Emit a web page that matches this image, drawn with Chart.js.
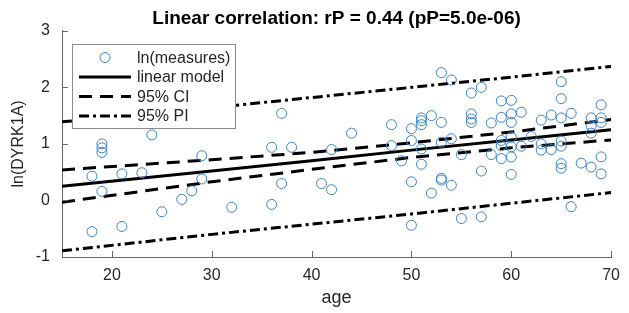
<!DOCTYPE html>
<html>
<head>
<meta charset="utf-8">
<script src="https://cdn.jsdelivr.net/npm/chart.js@4"></script>
<style>
  html, body { margin: 0; padding: 0; background: #fff; }
  #wrap { width: 629px; height: 313px; }
</style>
</head>
<body>
<div id="wrap"><canvas id="corrChart"></canvas></div>
<script>
const ages = [
  18, 18, 19, 19, 19, 19, 21, 21, 23, 24, 25, 27, 28, 29, 29, 32, 36, 36, 37, 37,
  38, 41, 42, 42, 44, 48, 48, 49, 50, 50, 50, 50, 51, 51, 51, 51, 51, 52, 52, 53,
  53, 53, 53, 53, 54, 54, 54, 55, 55, 56, 56, 56, 56, 57, 57, 57, 58, 58, 59, 59,
  59, 59, 59, 60, 60, 60, 60, 60, 60, 60, 61, 61, 62, 63, 63, 63, 64, 64, 65, 65,
  65, 65, 65, 65, 65, 66, 66, 67, 68, 68, 68, 68, 69, 69, 69, 69, 69
];
const measures = [
  0.43, -0.55, 1.00, 0.93, 0.85, 0.16, 0.47, -0.46, 0.49, 1.16, -0.20, 0.02, 0.17, 0.79, 0.38, -0.12, 0.94, -0.07, 1.54, 0.30,
  0.94, 0.30, 0.90, 0.19, 1.19, 1.34, 0.97, 0.70, 1.27, 1.06, 0.33, -0.44, 1.46, 1.41, 1.34, 0.91, 0.64, 1.50, 0.13, 2.26,
  1.38, 1.03, 0.39, 0.36, 2.13, 1.09, 0.27, 0.81, -0.32, 1.90, 1.53, 1.44, 1.38, 2.00, 0.52, -0.29, 1.37, 0.81, 1.76, 1.47,
  1.06, 0.97, 0.74, 1.77, 1.53, 1.38, 1.12, 0.95, 0.77, 0.46, 1.56, 0.96, 1.13, 1.42, 1.00, 0.89, 1.51, 0.90, 2.10, 1.80,
  1.46, 1.05, 0.96, 0.65, 0.57, 1.54, -0.11, 0.66, 1.46, 1.32, 1.19, 0.59, 1.69, 1.46, 1.38, 0.77, 0.47
];

// fit, confidence and prediction bands, read at a few ages
const lineAges = [15, 30, 40, 50, 60, 70];
const fitLine = [0.25, 0.52, 0.70, 0.89, 1.07, 1.25];
const ciUpper = [0.54, 0.72, 0.85, 1.02, 1.21, 1.43];
const ciLower = [-0.03, 0.33, 0.55, 0.76, 0.93, 1.07];
const piUpper = [1.39, 1.64, 1.82, 2.00, 2.18, 2.37];
const piLower = [-0.89, -0.60, -0.42, -0.24, -0.05, 0.14];

const xTicks = [20, 30, 40, 50, 60, 70];
const yTicks = [-1, 0, 1, 2, 3];

const FONT = '"Liberation Sans", Arial, sans-serif';
const BLUE = '#3b82c4';
const AXIS = '#666666';
const TEXT = '#262626';

const toPts = (xs, ys) => xs.map((x, i) => ({ x: x, y: ys[i] }));

const lineStyle = (data, dash) => ({
  data: data,
  showLine: true,
  borderColor: '#000',
  borderWidth: 3,
  borderDash: dash,
  pointRadius: 0,
  fill: false
});

// inward ticks and the legend box drawn on top
const extras = {
  id: 'extras',
  afterDraw(chart) {
    const ctx = chart.ctx;
    const xs = chart.scales.x, ys = chart.scales.y;
    const area = chart.chartArea;
    ctx.save();
    ctx.strokeStyle = AXIS;
    ctx.lineWidth = 1;
    ctx.beginPath();
    xTicks.forEach(t => {
      const px = Math.round(xs.getPixelForValue(t)) + 0.5;
      ctx.moveTo(px, area.bottom);
      ctx.lineTo(px, area.bottom - 6);
    });
    yTicks.forEach(t => {
      const py = Math.round(ys.getPixelForValue(t)) + 0.5;
      ctx.moveTo(area.left, py);
      ctx.lineTo(area.left + 6, py);
    });
    ctx.stroke();

    // legend
    const bx = 72.5, by = 44.5, bw = 163, bh = 84;
    ctx.fillStyle = '#fff';
    ctx.fillRect(bx, by, bw, bh);
    ctx.strokeStyle = '#8c8c8c';
    ctx.strokeRect(bx, by, bw, bh);
    const items = [
      { label: 'ln(measures)', kind: 'marker' },
      { label: 'linear model', dash: [] },
      { label: '95% CI', dash: [13, 8] },
      { label: '95% PI', dash: [10, 4, 3, 4] }
    ];
    ctx.font = '16px ' + FONT;
    ctx.textBaseline = 'middle';
    items.forEach((it, i) => {
      const cy = by + 13 + i * 19.5;
      if (it.kind === 'marker') {
        ctx.beginPath();
        ctx.setLineDash([]);
        ctx.strokeStyle = BLUE;
        ctx.lineWidth = 1;
        ctx.arc(105, cy, 5, 0, Math.PI * 2);
        ctx.stroke();
      } else {
        ctx.beginPath();
        ctx.setLineDash(it.dash);
        ctx.strokeStyle = '#000';
        ctx.lineWidth = 3;
        ctx.moveTo(79, cy);
        ctx.lineTo(131, cy);
        ctx.stroke();
      }
      ctx.setLineDash([]);
      ctx.fillStyle = TEXT;
      ctx.fillText(it.label, 137, cy + 1);
    });
    ctx.restore();
  }
};

const corrChart = new Chart(
  document.getElementById('corrChart'),
  {
    type: 'scatter',
    data: {
      datasets: [
        {
          label: 'ln(measures)',
          data: toPts(ages, measures),
          pointStyle: 'circle',
          pointRadius: 5,
          pointBorderWidth: 1,
          borderColor: BLUE,
          backgroundColor: 'rgba(0,0,0,0)'
        },
        Object.assign({ label: 'linear model' }, lineStyle(toPts(lineAges, fitLine), [])),
        Object.assign({ label: '95% CI' }, lineStyle(toPts(lineAges, ciUpper), [13, 8])),
        Object.assign({ label: '95% CI lower' }, lineStyle(toPts(lineAges, ciLower), [13, 8])),
        Object.assign({ label: '95% PI' }, lineStyle(toPts(lineAges, piUpper), [10, 4, 3, 4])),
        Object.assign({ label: '95% PI lower' }, lineStyle(toPts(lineAges, piLower), [10, 4, 3, 4]))
      ]
    },
    options: {
      responsive: true,
      maintainAspectRatio: false,
      animation: false,
      layout: { padding: { top: 1, right: 17, left: 0, bottom: 0 } },
      plugins: {
        legend: { display: false },
        tooltip: { enabled: false },
        title: {
          display: true,
          fullSize: false,
          text: 'Linear correlation: rP = 0.44 (pP=5.0e-06)',
          color: '#000',
          font: { family: FONT, size: 19, weight: 'bold' },
          padding: { top: 6, bottom: 1 }
        }
      },
      scales: {
        x: {
          type: 'linear',
          min: 15,
          max: 70,
          afterBuildTicks: s => { s.ticks = xTicks.map(v => ({ value: v })); },
          afterFit: s => { s.height = 56; },
          grid: { drawOnChartArea: false, drawTicks: false },
          border: { color: AXIS, width: 1 },
          ticks: { color: TEXT, padding: 9, font: { family: FONT, size: 16 } },
          title: {
            display: true,
            text: 'age',
            color: TEXT,
            font: { family: FONT, size: 18 },
            padding: { top: 4 }
          }
        },
        y: {
          min: -1,
          max: 3,
          afterBuildTicks: s => { s.ticks = yTicks.map(v => ({ value: v })); },
          afterFit: s => { s.width = 62; },
          grid: { drawOnChartArea: false, drawTicks: false },
          border: { color: AXIS, width: 1 },
          ticks: { color: TEXT, padding: 12, font: { family: FONT, size: 16 } },
          title: {
            display: true,
            text: 'ln(DYRK1A)',
            color: TEXT,
            font: { family: FONT, size: 16 },
            padding: { top: 9, bottom: 4 }
          }
        }
      }
    },
    plugins: [extras]
  }
);
</script>
</body>
</html>
